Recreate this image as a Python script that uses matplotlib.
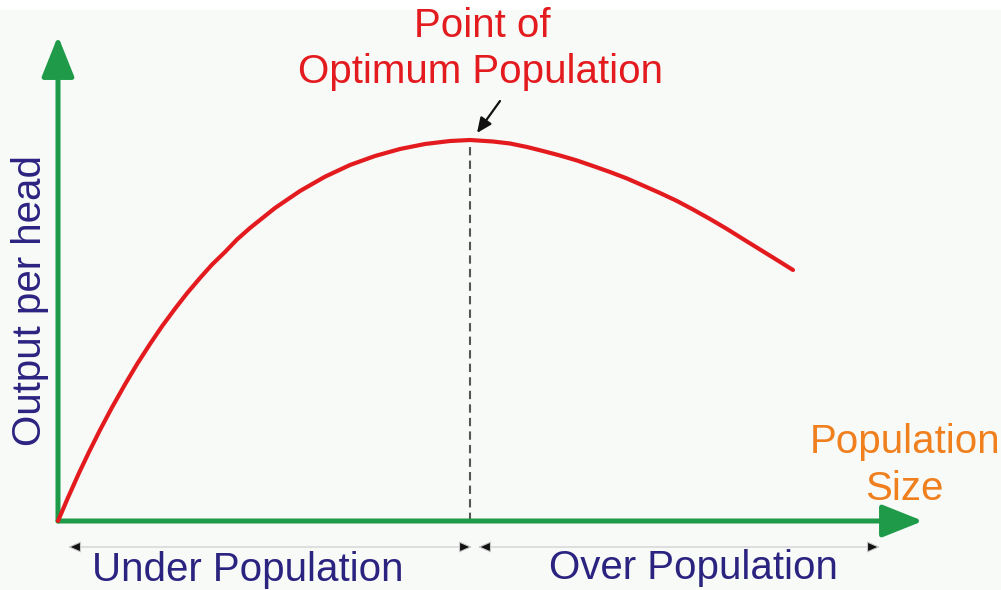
import matplotlib
matplotlib.use("Agg")
import matplotlib.pyplot as plt
from matplotlib.patches import Rectangle

# ---- data (population size vs output per head, arbitrary units) ----
pop_size = [0, 10, 21, 31, 42, 54, 67, 79, 92, 104, 117, 129, 142, 154, 167,
            179, 192, 217, 242, 267, 292, 317, 342, 367, 392, 412, 435, 452,
            469, 485, 502, 519, 535, 552, 569, 585, 602, 619, 635, 652, 669,
            685, 702, 719, 735]
output = [0, 23.4, 48, 69, 91, 113.6, 136.6, 156.8, 177, 194.7, 212.3, 227.7,
          243, 256.4, 269, 281.5, 293, 313, 330, 344.3, 356, 365, 372, 377,
          380, 381, 379.5, 377.5, 374, 370, 365.5, 360.5, 355, 349, 342.5,
          335.5, 328, 320, 311.5, 302, 292, 282, 271.5, 261, 251]
optimum_x = 412
optimum_y = 381

title_lines = ["Point of", "Optimum Population"]
y_label = "Output per head"
x_label_lines = ["Population", "Size"]
region_labels = ["Under Population", "Over Population"]

GREEN = "#1e9a48"
RED = "#e31b1f"
NAVY = "#2b2380"
ORANGE = "#f07f1d"
FONT = ["Liberation Sans", "DejaVu Sans"]

fig = plt.figure(figsize=(10.01, 5.90), dpi=100, facecolor="white")
ax = fig.add_axes([0, 0, 1, 1])
ax.set_xlim(-58, 943)
ax.set_ylim(-69, 521)
ax.axis("off")

# light background panel
ax.add_patch(Rectangle((-58, -69), 1001, 580, facecolor="#f8faf8",
                       edgecolor="none", zorder=0))

# axes arrows
ax.annotate("", xy=(865, 0), xytext=(0, 0),
            arrowprops=dict(arrowstyle="-|>,head_length=25,head_width=10",
                            mutation_scale=1, lw=3.6, color=GREEN,
                            shrinkA=0, shrinkB=0), zorder=3)
ax.annotate("", xy=(0, 485), xytext=(0, 0),
            arrowprops=dict(arrowstyle="-|>,head_length=25,head_width=10",
                            mutation_scale=1, lw=3.6, color=GREEN,
                            shrinkA=0, shrinkB=0), zorder=3)

# dashed optimum line
ax.plot([optimum_x, optimum_x], [0, optimum_y], color="#555555", lw=1.5,
        ls=(0, (4, 2.5)), zorder=2)

# curve
ax.plot(pop_size, output, color=RED, lw=3.0, solid_capstyle="round",
        solid_joinstyle="round", zorder=4)

# pointer arrow
ax.annotate("", xy=(419, 388), xytext=(442, 420),
            arrowprops=dict(arrowstyle="-|>,head_length=9,head_width=4",
                            mutation_scale=1, lw=1.6, color="#111111",
                            shrinkA=0, shrinkB=0), zorder=5)

# region span arrows
for x0, x1 in [(10, 414), (420, 822)]:
    ax.annotate("", xy=(x1, -26), xytext=(x0, -26),
                arrowprops=dict(arrowstyle="<|-|>,head_length=8,head_width=3.5",
                                mutation_scale=1, lw=0.8, ec="#c8c8c8",
                                fc="#111111", shrinkA=0, shrinkB=0), zorder=3)

# texts
fs = 29
ax.text(424, 484, title_lines[0], color=RED, fontsize=fs, family=FONT,
        ha="center", va="baseline")
ax.text(423, 438, title_lines[1], color=RED, fontsize=fs, family=FONT,
        ha="center", va="baseline")
ax.text(-17, 221, y_label, color=NAVY, fontsize=fs, family=FONT,
        rotation=90, rotation_mode="anchor", ha="center", va="baseline")
ax.text(847, 68, x_label_lines[0], color=ORANGE, fontsize=fs, family=FONT,
        ha="center", va="baseline")
ax.text(846, 21, x_label_lines[1], color=ORANGE, fontsize=fs, family=FONT,
        ha="center", va="baseline")
ax.text(190, -60, region_labels[0], color=NAVY, fontsize=fs, family=FONT,
        ha="center", va="baseline")
ax.text(635, -58, region_labels[1], color=NAVY, fontsize=fs, family=FONT,
        ha="center", va="baseline")

fig.savefig("out.png", dpi=100, facecolor="white")
